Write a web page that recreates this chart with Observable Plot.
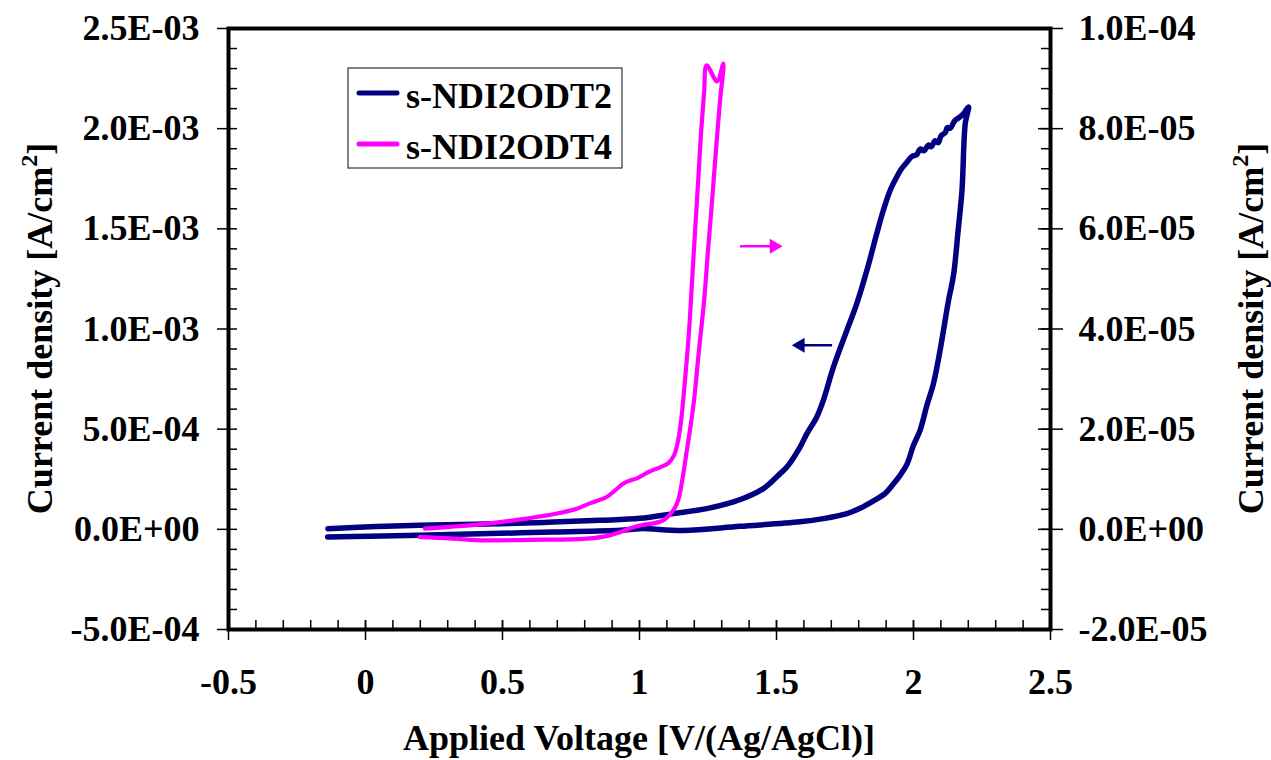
<!DOCTYPE html>
<html>
<head>
<meta charset="utf-8">
<script src="https://cdn.jsdelivr.net/npm/d3@7"></script>
<script src="https://cdn.jsdelivr.net/npm/@observablehq/plot@0.6"></script>
<style>
  html, body { margin: 0; padding: 0; background: white; }
  svg text { font-family: "Liberation Serif", "Times New Roman", serif !important; font-weight: bold; }
</style>
</head>
<body>
<div id="chart"></div>
<script>
// ---- Data ----
// s-NDI2ODT2 : left axis, current density in units of 1E-4 A/cm2
const navyV = [-0.138,0.016,0.198,0.417,0.684,0.929,1.002,1.159,1.367,1.586,
  1.671,1.757,1.805,1.854,1.897,1.927,1.951,1.976,2.000,2.024,
  2.049,2.073,2.097,2.128,2.146,2.163,2.177,2.189,2.201,
  2.183,2.163,2.152,2.146,2.134,2.123,2.116,2.101,2.090,2.079,
  2.065,2.054,2.039,2.024,2.012,1.995,1.976,1.955,1.939,1.915,
  1.890,1.866,1.830,1.793,1.757,1.708,1.671,1.647,1.611,1.586,
  1.538,1.513,1.452,1.389,1.343,1.245,1.123,1.002,0.856,0.685,
  0.491,0.198,0.016,-0.137];
const navyI = [-0.384,-0.340,-0.300,-0.225,-0.135,-0.050,0.035,-0.060,0.150,0.374,
  0.534,0.784,1.049,1.423,1.797,2.272,2.696,3.245,4.194,4.943,
  6.191,7.290,8.937,11.434,12.682,14.929,16.926,20.272,21.086,
  20.756,20.521,20.421,20.300,20.020,20.050,19.800,19.650,19.300,19.400,
  19.100,19.180,18.900,18.980,18.700,18.624,18.325,17.975,17.591,16.926,
  15.928,14.764,12.932,11.269,9.936,8.104,6.441,5.607,4.778,4.109,
  3.111,2.781,2.032,1.598,1.373,1.034,0.784,0.549,0.449,0.364,
  0.275,0.200,0.125,0.035];

// s-NDI2ODT4 : right axis, current density in units of 1E-5 A/cm2
const magV = [0.198,0.308,0.417,0.600,0.807,0.892,0.990,1.087,1.123,1.141,
  1.159,1.170,1.184,1.199,1.217,1.236,1.250,1.265,1.279,1.294,1.306,
  1.283,1.245,
  1.236,1.225,1.214,1.203,1.192,1.181,1.166,1.152,1.141,1.126,
  1.104,1.075,1.038,0.990,0.958,0.941,0.911,0.880,0.819,
  0.771,0.695,0.625,0.527,0.417,0.308,0.217];
const magI = [-0.154,-0.180,-0.220,-0.210,-0.186,-0.120,0.060,0.180,0.379,0.579,
  1.078,1.478,1.977,2.576,3.575,4.573,5.571,6.570,7.568,8.567,9.300,
  8.946,9.266,
  8.747,7.948,6.950,5.971,4.973,3.974,2.976,2.177,1.777,1.478,
  1.318,1.238,1.158,1.018,0.959,0.913,0.779,0.645,0.519,
  0.413,0.310,0.246,0.170,0.100,0.050,0.014];

const seriesNames = ["s-NDI2ODT2", "s-NDI2ODT4"];
const seriesColors = ["#000080", "#FF00FF"];

// axis ticks
const xTicks = [-0.5, 0, 0.5, 1, 1.5, 2, 2.5];
const xTickLabels = ["-0.5", "0", "0.5", "1", "1.5", "2", "2.5"];
const yTicks = [-5e-4, 0, 5e-4, 1e-3, 1.5e-3, 2e-3, 2.5e-3];
const rightScale = 25; // left value / 25 = right value

// direction arrows (V, left-axis current)
const arrowX1 = [1.367, 1.703];
const arrowX2 = [1.502, 1.576];
const arrowY = [1.413e-3, 0.919e-3];

// ---- Build tables ----
const navy = navyV.map((v, i) => ({v, i: navyI[i] * 1e-4}));
const mag = magV.map((v, i) => ({v, i: magI[i] * 1e-5 * rightScale}));
const arrows = arrowX1.map((x1, k) => ({x1, x2: arrowX2[k], y: arrowY[k], c: seriesColors[1 - k]}));

const xMinor = d3.range(-5, 26).map(k => k / 10);
const yMinor = d3.range(-5, 26).map(k => k * 1e-4);

function sci(v) {
  if (Math.abs(v) < 1e-12) return "0.0E+00";
  const [m, e] = v.toExponential(1).split("e");
  const n = +e;
  return m + "E" + (n < 0 ? "-" : "+") + String(Math.abs(n)).padStart(2, "0");
}

const W = 1271, H = 760;
const mL = 228, mR = 221, mT = 28, mB = 131;
const plotW = W - mL - mR, plotH = H - mT - mB;
const FONT = "'Liberation Serif', 'Times New Roman', serif";

const chart = Plot.plot({
  width: W, height: H,
  marginLeft: mL, marginRight: mR, marginTop: mT, marginBottom: mB,
  style: {fontFamily: FONT, fontSize: "36px", fontWeight: "bold", background: "white", color: "black"},
  x: {domain: [-0.5, 2.5]},
  y: {domain: [-5e-4, 2.5e-3]},
  marks: [
    Plot.line(navy, {x: "v", y: "i", stroke: seriesColors[0], strokeWidth: 5.5, curve: "catmull-rom", strokeLinecap: "round", strokeLinejoin: "round"}),
    Plot.line(mag, {x: "v", y: "i", stroke: seriesColors[1], strokeWidth: 4.2, curve: "catmull-rom", strokeLinecap: "round", strokeLinejoin: "round"}),
    Plot.link(arrows, {x1: "x1", x2: "x2", y1: "y", y2: "y", stroke: "c", strokeWidth: 2.5}),
    Plot.dot(arrows.slice(0, 1), {x: "x2", y: "y", symbol: "triangle", rotate: 90, r: 5.5, fill: "c", stroke: null, dx: -3}),
    Plot.dot(arrows.slice(1, 2), {x: "x2", y: "y", symbol: "triangle", rotate: -90, r: 5.5, fill: "c", stroke: null, dx: 3}),
    // left axis: major ticks outward, minor inward
    Plot.axisY(yTicks, {anchor: "left", tickSize: 11, tickPadding: 18, tickFormat: sci, strokeWidth: 1.5, label: null}),
    Plot.tickY(yMinor, {y: d => d, insetRight: plotW - 9, strokeWidth: 1.5}),
    // right axis: major ticks cross, minor inward
    Plot.axisY(yTicks, {anchor: "right", tickSize: 12, tickPadding: 16, tickFormat: d => sci(d / rightScale), strokeWidth: 1.5, label: null}),
    Plot.tickY(yTicks, {y: d => d, insetLeft: plotW - 12, strokeWidth: 1.5}),
    Plot.tickY(yMinor, {y: d => d, insetLeft: plotW - 9, strokeWidth: 1.5}),
    // bottom axis
    Plot.axisX(xTicks, {anchor: "bottom", tickSize: 11, tickPadding: 28, tickFormat: d => xTickLabels[xTicks.indexOf(d)], strokeWidth: 1.5, label: null}),
    Plot.tickX(xTicks, {x: d => d, insetTop: plotH - 9, strokeWidth: 1.5}),
    Plot.tickX(xMinor, {x: d => d, insetTop: plotH - 9, strokeWidth: 1.5}),
    Plot.frame({stroke: "black", strokeWidth: 4})
  ]
});
document.getElementById("chart").appendChild(chart);

// ---- Axis titles and legend ----
const svg = d3.select(chart);
function vTitle(x) {
  const t = svg.append("text")
    .attr("transform", `translate(${x},${mT + plotH / 2}) rotate(-90)`)
    .attr("text-anchor", "middle")
    .style("font-family", FONT).style("font-size", "36px").style("font-weight", "bold")
    .attr("fill", "black");
  t.append("tspan").text("Current density [A/cm");
  t.append("tspan").attr("dy", -15).style("font-size", "24px").text("2");
  t.append("tspan").attr("dy", 15).text("]");
}
vTitle(52);
vTitle(1263);
svg.append("text")
  .attr("x", mL + plotW / 2).attr("y", 750)
  .attr("text-anchor", "middle")
  .style("font-family", FONT).style("font-size", "36px").style("font-weight", "bold")
  .attr("fill", "black")
  .text("Applied Voltage [V/(Ag/AgCl)]");

const lg = svg.append("g");
lg.append("rect").attr("x", 348).attr("y", 68).attr("width", 274).attr("height", 100)
  .attr("fill", "white").attr("stroke", "#333").attr("stroke-width", 1.2);
seriesNames.forEach((name, k) => {
  const cy = 93 + k * 51;
  lg.append("line").attr("x1", 359).attr("x2", 397).attr("y1", cy).attr("y2", cy)
    .attr("stroke", seriesColors[k]).attr("stroke-width", 5).attr("stroke-linecap", "round");
  lg.append("text").attr("x", 406).attr("y", cy + 15)
    .attr("text-anchor", "start")
    .style("font-family", FONT).style("font-size", "36px").style("font-weight", "bold")
    .attr("fill", "black").text(name);
});
</script>
</body>
</html>
